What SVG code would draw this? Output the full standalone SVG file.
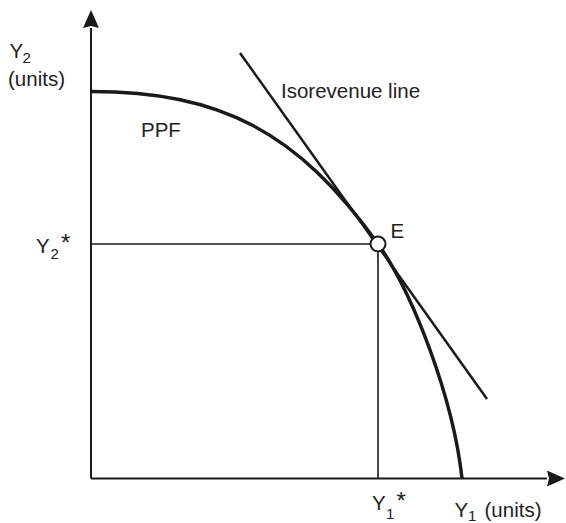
<svg xmlns="http://www.w3.org/2000/svg" width="566" height="523" viewBox="0 0 566 523">
<style>
text{font-family:"Liberation Sans",Arial,sans-serif;fill:#222;font-size:20.5px}
.sub{font-size:15px}
.ast{font-size:24px}
.axis{stroke:#1a1a1a;stroke-width:2;fill:none}
.thin{stroke:#1a1a1a;stroke-width:1.6;fill:none}
.ppf{stroke:#1a1a1a;stroke-width:3.5;fill:none}
.iso{stroke:#1a1a1a;stroke-width:2.5;fill:none}
</style>
<defs>
<marker id="arr" markerUnits="userSpaceOnUse" viewBox="0 0 18 16" refX="0" refY="8" markerWidth="18" markerHeight="16" orient="auto">
<path d="M0,0 L18,8 L0,16 L2,8 z" fill="#1a1a1a"/>
</marker>
</defs>
<g id="connectors">
<path class="axis" d="M91,478.5 L91,28" marker-end="url(#arr)"/>
<path class="axis" d="M91,478.5 L547,478.5" marker-end="url(#arr)"/>
<path class="thin" d="M91,244 L370.5,244"/>
<path class="thin" d="M378,251.5 L378,478.5"/>
<path id="ppf" class="ppf" d="M91,91.5 C220,91.5 298,131.4 378,244 C413,293.2 453.2,398 462,478.5"/>
<path id="isorevenue" class="iso" d="M240,53 L487,399"/>
</g>
<g id="E">
<circle cx="378" cy="244" r="7.5" fill="#fff" stroke="#1a1a1a" stroke-width="2"/>
<text x="390.5" y="238">E</text>
</g>
<g id="labels">
<text x="9.5" y="58.3">Y</text><text class="sub" x="22.5" y="62.7">2</text>
<text x="8" y="85.5">(units)</text>
<text x="36" y="253">Y</text><text class="sub" x="50.5" y="259">2</text><text class="ast" x="61" y="251">*</text>
<text x="372" y="510">Y</text><text class="sub" x="386" y="519">1</text><text class="ast" x="396.5" y="509">*</text>
<text x="454.5" y="517">Y</text><text class="sub" x="468" y="521">1</text>
<text x="484.5" y="517">(units)</text>
<text x="281" y="98.3">Isorevenue line</text>
<text x="141" y="137.3">PPF</text>
</g>
</svg>
